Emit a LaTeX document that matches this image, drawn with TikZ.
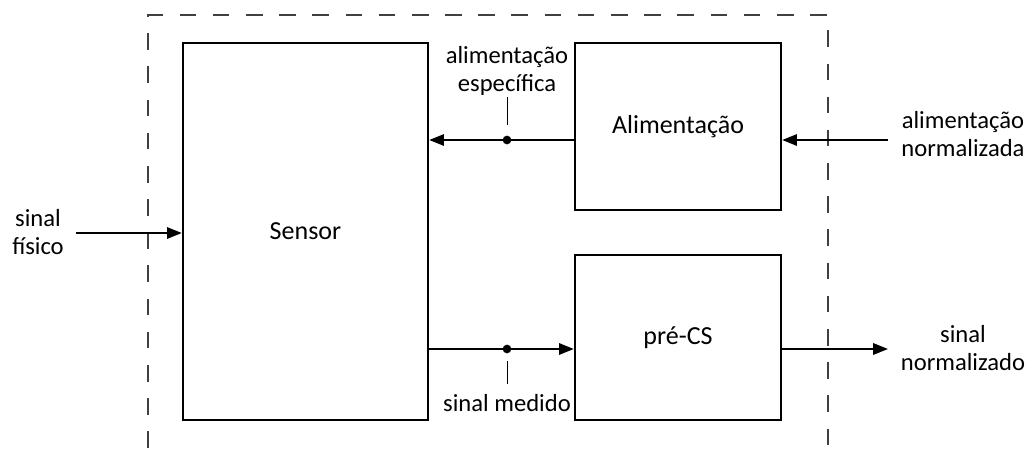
\documentclass[tikz,border=0pt]{standalone}
\usepackage{fontspec}
\setmainfont{Carlito}
\usetikzlibrary{positioning, arrows.meta, calc}
\tikzset{
  blk/.style={draw, line width=1.6pt, align=center, inner sep=0pt,
    font=\fontsize{18.5}{22}\selectfont},
  sig/.style={line width=1.5pt, -{Triangle[length=10.5pt, width=8pt]}},
  lbl/.style={align=center, inner sep=0pt, font=\fontsize{17.5}{20}\selectfont},
  tick/.style={line width=0.7pt},
  jnc/.style={circle, fill=black, inner sep=0pt, minimum size=6.2pt},
  frame/.style={line width=0.9pt, black!75, dash pattern=on 11.8pt off 11.8pt},
}

\begin{document}
\begin{tikzpicture}[x=0.025cm, y=-0.025cm]
\useasboundingbox (0,0) rectangle (1025,448);

% ── limite do bloco ─────────────────────────────────────────
\draw[frame] (148,448) -- (148,15) -- (828,15) -- (828,448);

% ── blocos ──────────────────────────────────────────────────
\node[blk, minimum width=6.125cm, minimum height=9.425cm] (sensor) at (305.5,231.5) {Sensor};
\node[blk, minimum width=5.15cm, minimum height=4.175cm] (alim) at (678,126.5) {Alimentação};
\node[blk, minimum width=5.15cm, minimum height=4.125cm] (pre) at (678,337.5) {pré-CS};

% ── nós de derivação ────────────────────────────────────────
\node[jnc] (spec) at (507,140) {};
\node[jnc] (med) at (507,349) {};
\draw[tick] ($(spec)+(0,-15)$) -- ++(0,-28);
\draw[tick] ($(med)+(0,12)$) -- ++(0,23);
\node[lbl] (specl) at (507,71) {alimentação\\específica};
\node[lbl] (medl) at (507,403) {sinal medido};

% ── sinais ──────────────────────────────────────────────────
\coordinate (fis) at (76,233);
\coordinate (norm) at (888,140);
\coordinate (out) at (888,349);
\node[lbl] (fisl) at (38,232) {sinal\\físico};
\node[lbl] (norml) at (963,134) {alimentação\\normalizada};
\node[lbl] (outl) at (963,348) {sinal\\normalizado};

\draw[sig] (fis) -- (sensor.west |- fis);
\draw[sig] (norm) -- (alim.east |- norm);
\draw[sig] (alim.west |- spec) -- (sensor.east |- spec);
\draw[sig] (sensor.east |- med) -- (pre.west |- med);
\draw[sig] (pre.east |- out) -- (out);

\end{tikzpicture}
\end{document}
